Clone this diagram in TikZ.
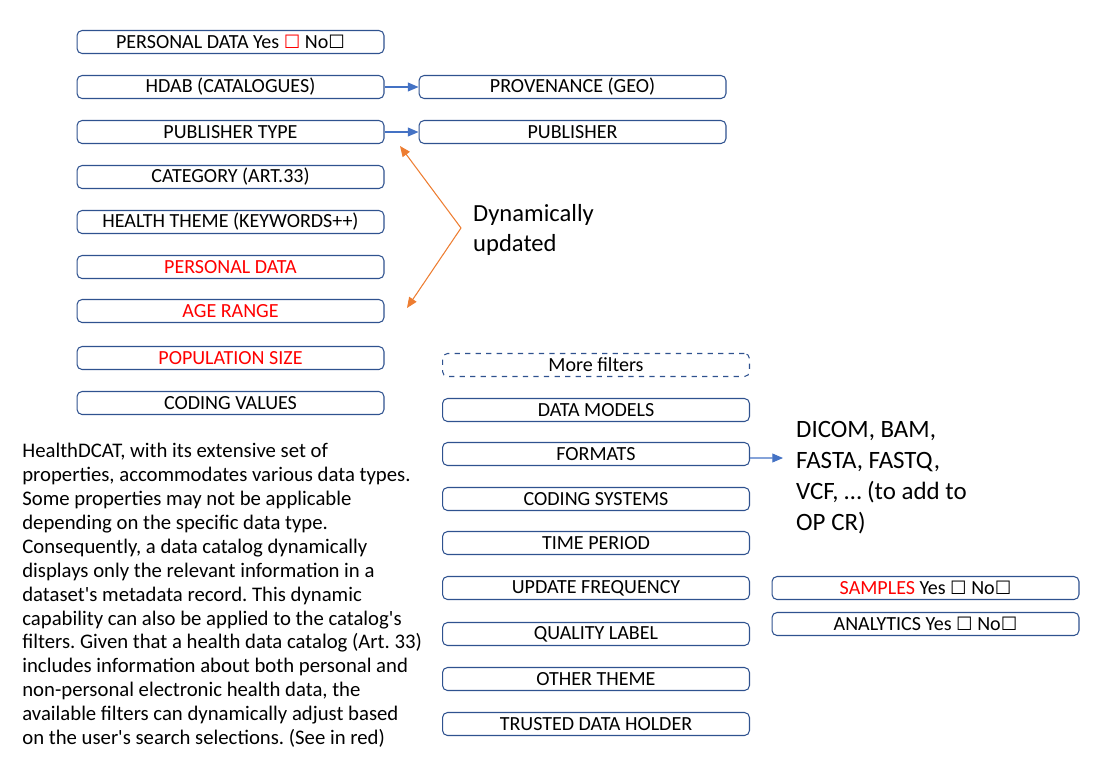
\documentclass[tikz,border=0pt]{standalone}
\usepackage{fontspec}
\setmainfont{Carlito}
\newfontfamily\symfont{DejaVu Sans}
\usetikzlibrary{arrows.meta}
\definecolor{boxblue}{RGB}{47,82,143}
\definecolor{linkblue}{RGB}{68,114,196}
\definecolor{dynorange}{RGB}{237,125,49}
\definecolor{selred}{RGB}{255,0,0}
\newcommand{\chk}{{\symfont\fontsize{10.5}{10.5}\selectfont ☐}}
\frenchspacing
\begin{document}
\begin{tikzpicture}[x=0.02cm, y=-0.02cm, font=\fontsize{11.4}{13}\selectfont,
      filt/.style={draw=boxblue, line width=0.6pt, rounded corners=0.1cm, minimum width=6.14cm, minimum height=0.46cm, inner sep=0pt},
      redfilt/.style={filt, text=selred},
      morefilt/.style={filt, dashed},
      link/.style={draw=linkblue, line width=0.6pt, -{Triangle[length=6pt,width=5pt]}},
      dyn/.style={draw=dynorange, line width=0.6pt, -{Triangle[length=6pt,width=5pt]}}]
    \useasboundingbox (0,0) rectangle (1105,768);
    % left column
    \node[filt]    (pers)  at (230.5,42)  {PERSONAL DATA Yes {\color{selred}\chk} No\chk};
    \node[filt]    (hdab)  at (230.5,87)  {HDAB (CATALOGUES)};
    \node[filt]    (pubt)  at (230.5,132) {PUBLISHER TYPE};
    \node[filt]    (cat)   at (230.5,177) {CATEGORY (ART.33)};
    \node[filt]    (theme) at (230.5,222) {HEALTH THEME (KEYWORDS++)};
    \node[redfilt] (pdata) at (230.5,267) {PERSONAL DATA};
    \node[redfilt] (age)   at (230.5,311) {AGE RANGE};
    \node[redfilt] (pop)   at (230.5,358) {POPULATION SIZE};
    \node[filt]    (cval)  at (230.5,403) {CODING VALUES};
    % second column
    \node[filt]    (prov)  at (572.5,87)  {PROVENANCE (GEO)};
    \node[filt]    (pub)   at (572.5,132) {PUBLISHER};
    \draw[link] (hdab) -- (prov);
    \draw[link] (pubt) -- (pub);
    % more filters
    \node[morefilt] (more) at (596,365) {More filters};
    \node[filt] (dmod)  at (596,410) {DATA MODELS};
    \node[filt] (fmt)   at (596,454) {FORMATS};
    \node[filt] (csys)  at (596,499) {CODING SYSTEMS};
    \node[filt] (time)  at (596,543) {TIME PERIOD};
    \node[filt] (freq)  at (596,588) {UPDATE FREQUENCY};
    \node[filt] (qual)  at (596,634) {QUALITY LABEL};
    \node[filt] (other) at (596,679) {OTHER THEME};
    \node[filt] (trust) at (596,724) {TRUSTED DATA HOLDER};
    \node[filt] (samp)  at (925.5,588) {{\color{selred}SAMPLES} Yes \chk{} No\chk};
    \node[filt] (anal)  at (925.5,624) {ANALYTICS Yes \chk{} No\chk};
    % formats list
    \node[anchor=west, align=left, font=\fontsize{14.2}{17.6}\selectfont] (fmtlist) at (790,478)
      {DICOM, BAM,\\FASTA, FASTQ,\\VCF, \dots\ (to add to\\OP CR)};
    \coordinate (fmtend) at (783,458);
    \draw[link] ([yshift=-0.08cm]fmt.east) -- (fmtend);
    % dynamically updated
    \node[anchor=west, align=left, font=\fontsize{14}{17}\selectfont] (dyntxt) at (467,230) {Dynamically\\updated};
    \coordinate (apex) at (461,228);
    \coordinate (uptip) at (400,146);
    \coordinate (lowtip) at (407,308);
    \draw[dyn] (apex) -- (uptip);
    \draw[dyn] (apex) -- (lowtip);
    % explanation
    \node[anchor=north west, align=left, inner sep=0pt, font=\fontsize{11.8}{13.6}\selectfont] (expl) at (22,443)
      {HealthDCAT, with its extensive set of\\
       properties, accommodates various data types.\\
       Some properties may not be applicable\\
       depending on the specific data type.\\
       Consequently, a data catalog dynamically\\
       displays only the relevant information in a\\
       dataset\textquotesingle s metadata record. This dynamic\\
       capability can also be applied to the catalog\textquotesingle s\\
       filters. Given that a health data catalog (Art. 33)\\
       includes information about both personal and\\
       non-personal electronic health data, the\\
       available filters can dynamically adjust based\\
       on the user\textquotesingle s search selections. (See in red)};
  \end{tikzpicture}
\end{document}
